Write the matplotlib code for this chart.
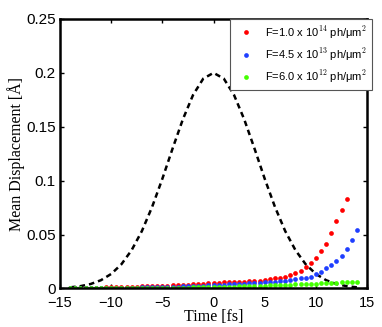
import matplotlib
matplotlib.use('Agg')
import matplotlib.pyplot as plt

plt.rcParams['font.family'] = ['Liberation Sans', 'DejaVu Sans']
plt.rcParams['mathtext.fontset'] = 'cm'

# pulse envelope (dashed), 1 fs steps
pulse_t = list(range(-14, 15))
pulse_val = [0.0010, 0.0021, 0.0041, 0.0076, 0.0134, 0.0224, 0.0355, 0.0532,
             0.0756, 0.1017, 0.1298, 0.1568, 0.1795, 0.1947, 0.2000, 0.1947,
             0.1795, 0.1568, 0.1298, 0.1017, 0.0756, 0.0532, 0.0355, 0.0224,
             0.0134, 0.0076, 0.0041, 0.0021, 0.0010]

# mean displacement, 0.5 fs steps starting at -14 fs
red = [0.0002, 0.0003, 0.0004, 0.0005, 0.0006, 0.0007, 0.0008, 0.0009, 0.0010, 0.0011,
       0.0012, 0.0013, 0.0015, 0.0016, 0.0018, 0.0019, 0.0021, 0.0023, 0.0025, 0.0027,
       0.0029, 0.0031, 0.0033, 0.0036, 0.0038, 0.0041, 0.0044, 0.0047, 0.0050, 0.0053,
       0.0056, 0.0058, 0.0060, 0.0062, 0.0064, 0.0066, 0.0068, 0.0071, 0.0074, 0.0083,
       0.0092, 0.0101, 0.0110, 0.0129, 0.0147, 0.0165, 0.0202, 0.0239, 0.0285, 0.0349,
       0.0414, 0.0515, 0.0625, 0.0726, 0.0827]
blue = [0.0001, 0.0001, 0.0001, 0.0002, 0.0002, 0.0003, 0.0003, 0.0004, 0.0004, 0.0005,
        0.0005, 0.0006, 0.0007, 0.0008, 0.0009, 0.0010, 0.0011, 0.0012, 0.0013, 0.0014,
        0.0016, 0.0017, 0.0019, 0.0021, 0.0023, 0.0025, 0.0027, 0.0029, 0.0032, 0.0034,
        0.0036, 0.0038, 0.0040, 0.0042, 0.0044, 0.0047, 0.0050, 0.0053, 0.0056, 0.0059,
        0.0062, 0.0065, 0.0069, 0.0074, 0.0083, 0.0092, 0.0101, 0.0110, 0.0138, 0.0156,
        0.0193, 0.0220, 0.0257, 0.0303, 0.0368, 0.0450, 0.0540]
green = [0.0000, 0.0000, 0.0000, 0.0000, 0.0001, 0.0001, 0.0001, 0.0001, 0.0002, 0.0002,
         0.0002, 0.0003, 0.0003, 0.0003, 0.0004, 0.0004, 0.0005, 0.0005, 0.0006, 0.0006,
         0.0007, 0.0007, 0.0008, 0.0008, 0.0009, 0.0009, 0.0010, 0.0011, 0.0012, 0.0013,
         0.0014, 0.0016, 0.0017, 0.0019, 0.0020, 0.0022, 0.0023, 0.0025, 0.0027, 0.0028,
         0.0030, 0.0032, 0.0034, 0.0035, 0.0037, 0.0039, 0.0041, 0.0043, 0.0045, 0.0047,
         0.0049, 0.0051, 0.0053, 0.0056, 0.0058, 0.0061, 0.0064]
t_red = [-14 + 0.5 * i for i in range(len(red))]
t_blue = [-14 + 0.5 * i for i in range(len(blue))]
t_green = [-14 + 0.5 * i for i in range(len(green))]

labels = [r'F=1.0 x 10$^{14}$ ph/$\mathregular{\mu}$m$^{2}$',
          r'F=4.5 x 10$^{13}$ ph/$\mathregular{\mu}$m$^{2}$',
          r'F=6.0 x 10$^{12}$ ph/$\mathregular{\mu}$m$^{2}$']
xticks = [-15, -10, -5, 0, 5, 10, 15]
yticks = [0, 0.05, 0.1, 0.15, 0.2, 0.25]
ytick_labels = ['0', '0.05', '0.1', '0.15', '0.2', '0.25']

fig = plt.figure(figsize=(3.82, 3.27), dpi=100)
ax = fig.add_axes([0.157, 0.118, 0.804, 0.824])

ax.plot(pulse_t, pulse_val, color='black', linestyle='--', linewidth=1.8, dashes=(2.2, 1.6))
ax.plot(t_red, red, 'o', color='#ff0000', markersize=3.4, markeredgewidth=0, label=labels[0])
ax.plot(t_blue, blue, 'o', color='#1f3fff', markersize=3.4, markeredgewidth=0, label=labels[1])
ax.plot(t_green, green, 'o', color='#44ff00', markersize=3.4, markeredgewidth=0, label=labels[2])

ax.set_xlim(-15, 15)
ax.set_ylim(0, 0.25)
ax.set_xticks(xticks)
ax.set_yticks(yticks)
ax.set_yticklabels(ytick_labels)
ax.tick_params(direction='in', length=3, width=1, top=True, right=True, labelsize=11)
ax.tick_params(axis='x', pad=5.5, labelsize=10.5)
ax.tick_params(axis='y', pad=3)
for s in ax.spines.values():
    s.set_linewidth(1.8)

ax.set_xlabel('Time [fs]', fontsize=11.5, family='Liberation Serif')
ax.xaxis.set_label_coords(0.5, -0.075)
ax.set_ylabel('Mean Displacement [Å]', fontsize=11.5, family='Liberation Serif', labelpad=1)

leg = ax.legend(loc='upper right', bbox_to_anchor=(1.015, 1.0), fontsize=8, frameon=True,
                fancybox=False, framealpha=1, edgecolor='#555555', handletextpad=0.7,
                borderpad=0.45, labelspacing=0.5, handlelength=2.0, borderaxespad=0)
leg.get_frame().set_linewidth(0.8)

fig.savefig('out.png', dpi=100)
